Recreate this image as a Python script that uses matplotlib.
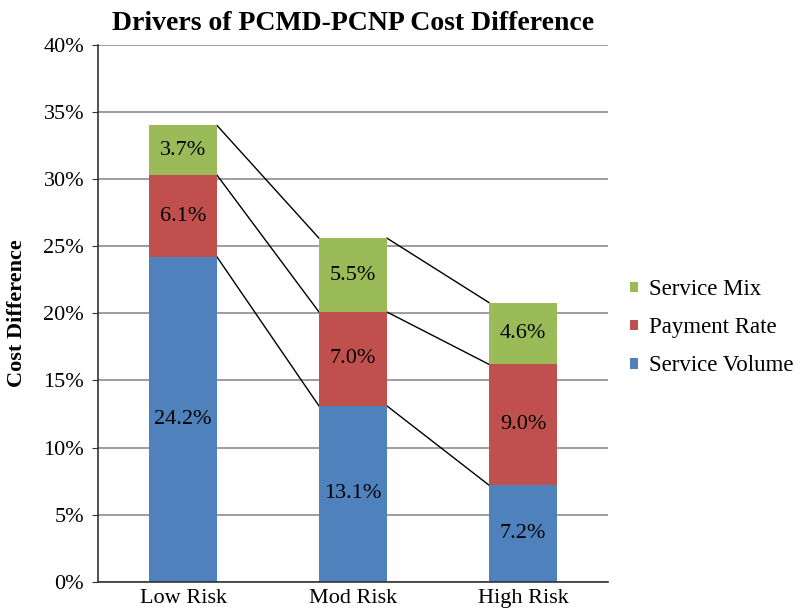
import matplotlib.pyplot as plt
import numpy as np

plt.rcParams["font.family"] = ["Liberation Serif", "DejaVu Serif"]

categories = ["Low Risk", "Mod Risk", "High Risk"]
volume = [24.2, 13.1, 7.2]
payment = [6.1, 7.0, 9.0]
mix = [3.7, 5.5, 4.6]

series = [("Service Volume", volume, "#4F81BD"),
          ("Payment Rate", payment, "#C0504D"),
          ("Service Mix", mix, "#9BBB59")]

fig = plt.figure(figsize=(8, 6.15), dpi=100)
ax = fig.add_axes([0.1225, 0.054, 0.6375, 0.873])

x = np.arange(len(categories))
width = 0.4
bottom = np.zeros(len(categories))
handles = []
for name, vals, color in series:
    vals = np.array(vals)
    bars = ax.bar(x, vals, width, bottom=bottom, color=color, label=name, zorder=2)
    handles.append(bars)
    for xi, b, v in zip(x, bottom, vals):
        ax.text(xi, b + v / 2, f"{v:.1f}%", ha="center", va="center", fontsize=16, zorder=3)
    bottom = bottom + vals
    # series lines between bars
    for i in range(len(categories) - 1):
        ax.plot([x[i] + width / 2, x[i + 1] - width / 2], [bottom[i], bottom[i + 1]],
                color="black", lw=1, zorder=1)

ax.set_xlim(-0.5, 2.5)
ax.set_ylim(0, 40)
ax.set_yticks(np.arange(0, 41, 5))
ax.set_yticklabels([f"{t}%" for t in range(0, 41, 5)])
ax.set_xticks(x)
ax.set_xticklabels(categories)
ax.tick_params(axis="both", labelsize=16)
ax.tick_params(axis="x", length=0, pad=5)
ax.tick_params(axis="y", length=4, direction="out", color="#333333", pad=6)
ax.yaxis.grid(True, color="#8c8c8c", lw=1.2, zorder=0)
ax.set_axisbelow(True)
for s in ["top", "right"]:
    ax.spines[s].set_visible(False)
ax.spines["left"].set_color("#333333")
ax.spines["bottom"].set_color("#333333")
ax.spines["left"].set_linewidth(1.2)
ax.spines["bottom"].set_linewidth(1.2)

ax.set_title("Drivers of PCMD-PCNP Cost Difference", fontsize=20, fontweight="bold", pad=11)
ax.set_ylabel("Cost Difference", fontsize=16, fontweight="bold", labelpad=12)

fig.legend(handles[::-1], [s[0] for s in series][::-1], loc="center left",
           bbox_to_anchor=(0.788, 0.467), frameon=False, fontsize=16.5,
           handlelength=0.33, handleheight=0.33, handletextpad=0.5, labelspacing=0.75,
           borderaxespad=0, borderpad=0)

fig.savefig("out.png", dpi=100)
